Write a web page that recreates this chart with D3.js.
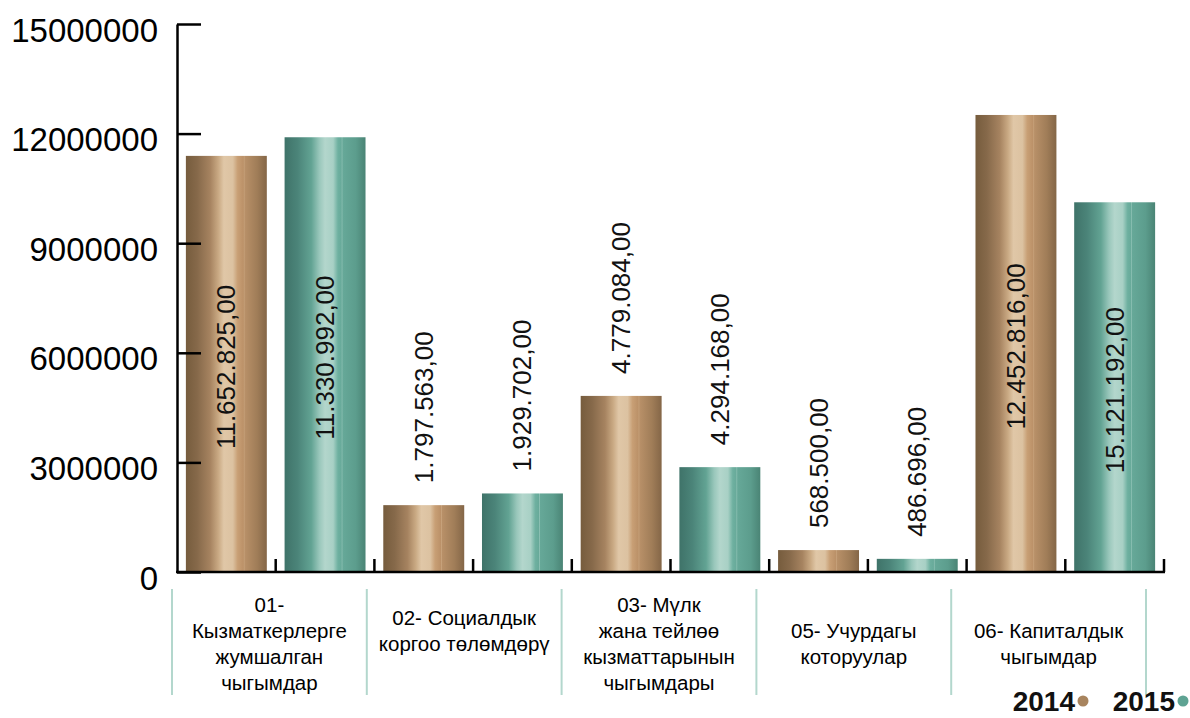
<!DOCTYPE html>
<html>
<head>
<meta charset="utf-8">
<script src="https://cdn.jsdelivr.net/npm/d3@7"></script>
<style>
  html, body { margin: 0; padding: 0; background: #fff; }
  svg { display: block; font-family: "Liberation Sans", Arial, sans-serif; }
</style>
</head>
<body>
<svg id="chart" width="1190" height="718"></svg>
<script>
// ---- data ----
const categories = [
  ["01-", "Кызматкерлерге", "жумшалган", "чыгымдар"],
  ["02- Социалдык", "коргоо төлөмдөрү", ""],
  ["03- Мүлк", "жана тейлөө", "кызматтарынын", "чыгымдары"],
  ["05- Учурдагы", "которуулар"],
  ["06- Капиталдык", "чыгымдар"]
];
const years = ["2014", "2015"];
const values2014 = [11390000, 1830000, 4820000, 600000, 12510000];
const values2015 = [11900000, 2150000, 2870000, 360000, 10120000];
const labels2014 = ["11.652.825,00", "1.797.563,00", "4.779.084,00", "568.500,00", "12.452.816,00"];
const labels2015 = ["11.330.992,00", "1.929.702,00", "4.294.168,00", "486.696,00", "15.121.192,00"];
const yTicks = [0, 3000000, 6000000, 9000000, 12000000, 15000000];

// ---- setup ----
const svg = d3.select("#chart");
const defs = svg.append("defs");

const gradStops = {
  "2014": [
    [0, "#765c3d"], [0.14, "#86694a"], [0.3, "#a68360"], [0.4, "#c9a983"],
    [0.47, "#e0c7a7"], [0.58, "#dcc2a1"], [0.64, "#c89f75"], [0.71, "#bb9168"],
    [0.72, "#c7a27b"], [0.73, "#b89068"], [0.88, "#a07d58"], [1, "#846647"]
  ],
  "2015": [
    [0, "#3f7369"], [0.16, "#4b8479"], [0.33, "#62a393"], [0.43, "#99c7bb"],
    [0.5, "#b3d6cc"], [0.6, "#a8d0c5"], [0.66, "#6eb0a0"], [0.7, "#68aa9a"],
    [0.71, "#8cc0b3"], [0.72, "#66a898"], [0.88, "#5c9d8d"], [1, "#4a8475"]
  ]
};
const dotColor = { "2014": "#a8845e", "2015": "#5ea393" };

years.forEach(yr => {
  const g = defs.append("linearGradient")
    .attr("id", "grad" + yr)
    .attr("x1", "0%").attr("x2", "100%").attr("y1", "0%").attr("y2", "0%");
  gradStops[yr].forEach(([o, c]) => g.append("stop").attr("offset", o).attr("stop-color", c));
});

// flatten bars
const bars = [];
categories.forEach((c, i) => {
  bars.push({ id: i + "-2014", year: "2014", value: values2014[i], label: labels2014[i] });
  bars.push({ id: i + "-2015", year: "2015", value: values2015[i], label: labels2015[i] });
});

const plotLeft = 177, plotRight = 1164, plotTop = 24, plotBottom = 572;

const x = d3.scaleBand()
  .domain(bars.map(d => d.id))
  .range([plotLeft, plotRight])
  .paddingInner(0.18)
  .paddingOuter(0.09);

const y = d3.scaleLinear()
  .domain([0, 15000000])
  .range([plotBottom, plotTop]);

// ---- bars ----
svg.append("g").selectAll("rect")
  .data(bars)
  .join("rect")
  .attr("x", d => x(d.id))
  .attr("y", d => y(d.value))
  .attr("width", x.bandwidth())
  .attr("height", d => y(0) - y(d.value))
  .attr("fill", d => "url(#grad" + d.year + ")");

// ---- y axis ----
const yAxis = d3.axisLeft(y)
  .tickValues(yTicks)
  .tickFormat(d3.format("d"))
  .tickSizeInner(-24)
  .tickSizeOuter(0)
  .tickPadding(19);

const gy = svg.append("g")
  .attr("transform", `translate(${plotLeft},0)`)
  .call(yAxis);
gy.select(".domain").attr("stroke", "#000").attr("stroke-width", 2.5);
gy.selectAll(".tick line").attr("stroke", "#000").attr("stroke-width", 2.5);
gy.selectAll(".tick text")
  .attr("font-size", 33)
  .attr("fill", "#000")
  .attr("font-family", "'Liberation Sans', Arial, sans-serif")
  .attr("dy", "0.52em");

// ---- x axis ----
const step = x.step();
const boundaries = d3.range(bars.length + 1).map(i => x.range()[0] + i * step);
const gx = svg.append("g");
gx.append("line")
  .attr("x1", plotLeft - 1).attr("x2", boundaries[boundaries.length - 1] + 1)
  .attr("y1", y(0)).attr("y2", y(0))
  .attr("stroke", "#000").attr("stroke-width", 2.5);
gx.selectAll("line.tick")
  .data(boundaries.slice(1))
  .join("line")
  .attr("class", "tick")
  .attr("x1", d => d).attr("x2", d => d)
  .attr("y1", y(0)).attr("y2", y(0) - 13)
  .attr("stroke", "#000").attr("stroke-width", 2.5);

// ---- value labels (rotated) ----
const lbl = svg.append("g").selectAll("text")
  .data(bars)
  .join("text")
  .attr("font-size", 26)
  .attr("fill", "#111")
  .attr("dominant-baseline", "central")
  .text(d => d.label);

lbl.each(function(d) {
  const len = this.getComputedTextLength();
  const barH = y(0) - y(d.value);
  const cx = x(d.id) + x.bandwidth() / 2;
  let cy;
  if (len + 40 < barH) {
    cy = (y(d.value) + y(0)) / 2 + 3;
  } else {
    cy = y(d.value) - 22 - len / 2;
  }
  d3.select(this)
    .attr("text-anchor", "middle")
    .attr("transform", `translate(${cx},${cy}) rotate(-90)`);
});

// ---- category table ----
const xc = d3.scaleBand()
  .domain(categories.map((c, i) => i))
  .range([172, 1146]);

const tbl = svg.append("g");
const lines = d3.range(categories.length + 1).map(i => xc.range()[0] + i * xc.step());
tbl.selectAll("line")
  .data(lines)
  .join("line")
  .attr("x1", d => d).attr("x2", d => d)
  .attr("y1", 589).attr("y2", 695)
  .attr("stroke", "#b3d7cd").attr("stroke-width", 2);

const lineH = 25.7, midY = 643.5;
categories.forEach((c, i) => {
  const t = tbl.append("text")
    .attr("font-size", 20.5)
    .attr("fill", "#000")
    .attr("text-anchor", "middle")
    .attr("font-family", "Arial, 'Liberation Sans', sans-serif");
  c.forEach((ln, j) => {
    t.append("tspan")
      .attr("x", xc(i) + xc.bandwidth() / 2)
      .attr("y", midY + (j - (c.length - 1) / 2) * lineH)
      .attr("dominant-baseline", "central")
      .text(ln);
  });
});

// ---- legend ----
const legendEnds = { "2014": 1075, "2015": 1175 };
const lg = svg.append("g");
years.forEach(yr => {
  lg.append("text")
    .attr("x", legendEnds[yr])
    .attr("y", 711)
    .attr("text-anchor", "end")
    .attr("font-size", 28)
    .attr("font-weight", "bold")
    .attr("fill", "#111")
    .text(yr);
  lg.append("circle")
    .attr("cx", legendEnds[yr] + 8)
    .attr("cy", 701)
    .attr("r", 5.5)
    .attr("fill", dotColor[yr]);
});
</script>
</body>
</html>
